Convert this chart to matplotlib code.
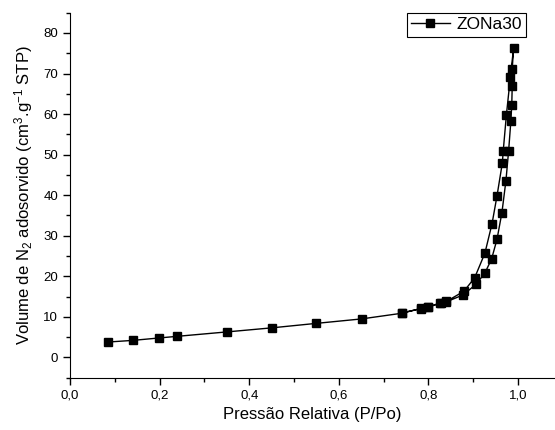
import matplotlib
matplotlib.use('Agg')
import matplotlib.pyplot as plt
from matplotlib.ticker import MultipleLocator, FuncFormatter

plt.rcParams['font.family'] = ['Liberation Sans', 'DejaVu Sans']
plt.rcParams['mathtext.fontset'] = 'custom'
plt.rcParams['mathtext.rm'] = 'Liberation Sans'
plt.rcParams['mathtext.it'] = 'Liberation Sans:italic'

# adsorption branch
p_ads = [0.085, 0.140, 0.199, 0.239, 0.351, 0.451, 0.550, 0.651, 0.741, 0.784,
         0.800, 0.827, 0.840, 0.877, 0.906, 0.926, 0.941, 0.953, 0.964, 0.973,
         0.979, 0.984, 0.986, 0.987, 0.987, 0.990]
v_ads = [3.8, 4.2, 4.8, 5.2, 6.3, 7.3, 8.4, 9.5, 10.9, 12.1,
         12.4, 13.4, 13.7, 15.4, 18.0, 20.8, 24.3, 29.1, 35.7, 43.6,
         51.0, 58.3, 62.3, 67.0, 71.1, 76.3]
# desorption branch
p_des = [0.983, 0.974, 0.967, 0.965, 0.953, 0.942, 0.926, 0.903, 0.879, 0.840,
         0.825, 0.799, 0.783, 0.741]
v_des = [69.2, 59.8, 51.0, 48.0, 39.8, 33.0, 25.7, 19.6, 16.3, 13.8,
         13.4, 12.4, 12.0, 11.0]

p_all = p_ads + p_des
v_all = v_ads + v_des

fig = plt.figure(figsize=(5.55, 4.30), dpi=100)
ax = fig.add_axes([0.1261, 0.1216, 0.8719, 0.8489])

ax.plot(p_all, v_all, '-', color='black', lw=1.0, marker='s', ms=6,
        mfc='black', mec='black', label='ZONa30')

ax.set_xlim(0, 1.08)
ax.set_ylim(-5, 85)
ax.xaxis.set_major_locator(MultipleLocator(0.2))
ax.xaxis.set_minor_locator(MultipleLocator(0.1))
ax.yaxis.set_major_locator(MultipleLocator(10))
ax.yaxis.set_minor_locator(MultipleLocator(5))
ax.xaxis.set_major_formatter(FuncFormatter(lambda v, pos: f'{v:.1f}'.replace('.', ',')))

ax.spines['top'].set_visible(False)
ax.spines['right'].set_visible(False)
ax.tick_params(which='both', direction='out', labelsize=9.5, width=1)
ax.tick_params(which='major', length=5)
ax.tick_params(which='minor', length=3)

ax.set_xlabel('Pressão Relativa (P/Po)', fontsize=12, labelpad=4)
ax.set_ylabel('Volume de N$_2$ adosorvido (cm$^3$.g$^{-1}$ STP)', fontsize=12, labelpad=6)

leg = ax.legend(loc='upper right', bbox_to_anchor=(0.943, 1.0), borderaxespad=0,
                fontsize=12.5, handlelength=2.2, handletextpad=0.4,
                fancybox=False, framealpha=1, borderpad=0.25)
leg.get_frame().set_edgecolor('black')
leg.get_frame().set_linewidth(0.8)

fig.savefig('out.png', dpi=100)
